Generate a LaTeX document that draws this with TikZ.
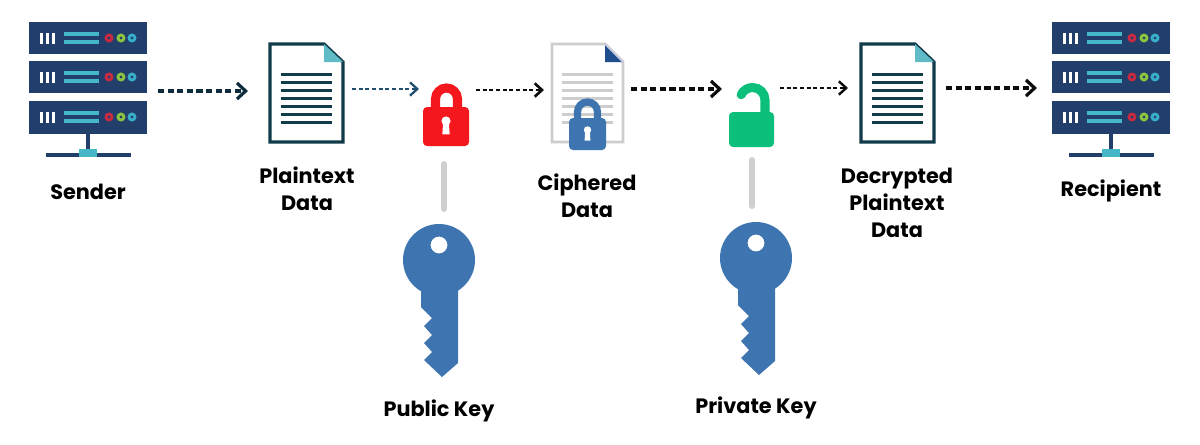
\documentclass[tikz,border=0pt]{standalone}
\usepackage{fontspec}
\setmainfont{Poppins}
\usetikzlibrary{arrows.meta}
\definecolor{navy}{HTML}{223F6B}
\definecolor{teal}{HTML}{45B7C6}
\definecolor{dotred}{HTML}{C92A42}
\definecolor{dotgreen}{HTML}{8CC63F}
\definecolor{dotcyan}{HTML}{38AFCB}
\definecolor{docline}{HTML}{123B4A}
\definecolor{foldteal}{HTML}{5FBCC6}
\definecolor{keyblue}{HTML}{3E74AF}
\definecolor{lockred}{HTML}{F5171E}
\definecolor{lockgreen}{HTML}{0CBF7A}
\definecolor{linkgrey}{HTML}{CFCFCF}
\definecolor{cipherline}{HTML}{CDCDCD}
\definecolor{cipherfold}{HTML}{1F4E8C}
\definecolor{foldedge}{HTML}{C9CEE6}
\definecolor{arrowdark}{HTML}{0F2C3C}
\definecolor{arrowthin}{HTML}{1F4E6E}
\definecolor{arrowblack}{HTML}{0C0C0C}
\tikzset{
  x=0.75pt,y=-0.75pt,
  flow/.style={-{Straight Barb[length=6.5pt,width=12pt,line width=2.4pt]},line width=2.4pt,dash pattern=on 4.6pt off 2.6pt},
  thinflow/.style={-{Straight Barb[length=5.5pt,width=10pt,line width=#1]},line width=#1,dash pattern=on 3pt off 2pt},
  keylink/.style={linkgrey,line width=4.5pt,line cap=round},
  label/.style={font=\bfseries\fontsize{15.6pt}{20.5pt}\selectfont,align=center,text=black,inner sep=0pt,anchor=center},
  bar/.pic={
    \fill[navy] (0,0) rectangle (118,#1);
    \foreach \i in {10.5,16.5,22.5}{\fill[white] (\i,11) rectangle ++(3.3,10.5);}
    \fill[teal] (35,10) rectangle (70,13.5);
    \fill[teal] (35,18) rectangle (70,21.5);
    \draw[dotred,line width=2.1pt] (80,16) circle[radius=3];
    \draw[dotgreen,line width=2.1pt] (92,16) circle[radius=3];
    \draw[dotcyan,line width=2.1pt] (103,16) circle[radius=3];
  },
  server/.pic={
    \pic at (0,0) {bar=32};
    \pic at (0,39) {bar=32};
    \pic at (0,79) {bar=33};
    \draw[navy,line width=2.3pt] (59,112) -- (59,130);
    \draw[navy,line width=2.3pt] (17,133) -- (102,133);
    \fill[teal] (50,127) rectangle (68,135);
  },
  paper/.pic={
    \foreach \y in {30,38,46,54,62,70,78}{\draw[#1,line width=2.25pt] (11,\y) -- (62,\y);}
  },
  key/.pic={
    \fill[keyblue,even odd rule] (0,0) circle[radius=36] (0,-15) circle[radius=8.5];
    \fill[keyblue] (-18,24) -- (19,24) -- (19,103) -- (3,117) -- (-15,100) -- (-7,92) -- (-15,83) -- (-7,75) -- (-15,66) -- (-7,58) -- (-18,47) -- cycle;
  },
  keyhole/.pic={
    \fill[white] (0,0) circle[radius=#1];
    \fill[white] (-0.6*#1,0) -- (0.6*#1,0) -- (0.8*#1,2.9*#1) -- (-0.8*#1,2.9*#1) -- cycle;
  }
}
\begin{document}
\begin{tikzpicture}
\useasboundingbox (0,0) rectangle (1200,444);
\fill[white] (0,0) rectangle (1200,444);
% servers
\pic at (29,22) {server};
\pic at (1052,22) {server};
% plaintext document
\pic at (270,44) {paper=docline};
\draw[docline,line width=2.4pt,line join=miter] (270,44) -- (324,44) -- (343,62) -- (343,142) -- (270,142) -- cycle;
\fill[foldteal] (324,44) -- (343,62) -- (324,62) -- cycle;
% decrypted document
\pic at (861,44) {paper=docline};
\draw[docline,line width=2.4pt,line join=miter] (861,44) -- (915,44) -- (934,62) -- (934,142) -- (861,142) -- cycle;
\fill[foldteal] (915,44) -- (934,62) -- (915,62) -- cycle;
% ciphered document
\pic at (551,44) {paper=cipherline};
\draw[cipherline,line width=2.2pt] (552,44) -- (605,44) -- (623,62) -- (623,142) -- (552,142) -- cycle;
\fill[cipherfold] (605,44) -- (623,62) -- (605,62) -- cycle;
\draw[foldedge,line width=1.2pt] (605,44) -- (623,62);
% red lock
\draw[lockred,line width=6.8pt] (435.5,108) -- (435.5,99) arc[start angle=180,end angle=360,radius=11] -- (457.5,108);
\fill[lockred,rounded corners=3pt] (423,107) rectangle (469,146);
\pic at (446,121) {keyhole=4.6};
% blue lock
\draw[keyblue,line width=5.4pt] (577.5,120) -- (577.5,112) arc[start angle=180,end angle=360,radius=10] -- (597.5,120);
\fill[keyblue,rounded corners=3pt] (569,118) rectangle (606,150);
\pic at (587.5,130) {keyhole=3.7};
% green lock
\draw[lockgreen,line width=6.8pt,line cap=round] (765,113) -- (765,100) arc[start angle=0,end angle=-155,radius=12.5];
\fill[lockgreen,rounded corners=3pt] (729,112) rectangle (774,147);
% keys
\pic at (439,260) {key};
\pic at (756,258) {key};
% key links
\coordinate (redlock) at (444,164);
\coordinate (pubkey) at (444,209);
\coordinate (greenlock) at (752,160);
\coordinate (privkey) at (752,206);
\draw[keylink] (redlock) -- (pubkey);
\draw[keylink] (greenlock) -- (privkey);
% flow arrows
\coordinate (a1) at (158,91); \coordinate (b1) at (248,91);
\coordinate (a2) at (352,89); \coordinate (b2) at (419,89);
\coordinate (a3) at (476,90); \coordinate (b3) at (544,90);
\coordinate (a4) at (631,89); \coordinate (b4) at (722,89);
\coordinate (a5) at (780,88); \coordinate (b5) at (848,88);
\coordinate (a6) at (946,88); \coordinate (b6) at (1037,88);
\draw[flow,arrowdark] (a1) -- (b1);
\draw[thinflow=1.7pt,arrowthin] (a2) -- (b2);
\draw[thinflow=2pt,arrowblack] (a3) -- (b3);
\draw[flow,arrowblack] (a4) -- (b4);
\draw[thinflow=1.8pt,arrowblack] (a5) -- (b5);
\draw[flow,arrowblack] (a6) -- (b6);
% labels
\node[label] (sender) at (88,192) {Sender};
\node[label] (plain) at (307,189) {Plaintext\\Data};
\node[label] (ciph) at (587,196) {Ciphered\\Data};
\node[label] (decr) at (897,203) {Decrypted\\Plaintext\\Data};
\node[label] (recip) at (1111,191) {Recipient};
\node[label] (pub) at (439,411) {Public Key};
\node[label] (priv) at (756,408) {Private Key};
\end{tikzpicture}
\end{document}
